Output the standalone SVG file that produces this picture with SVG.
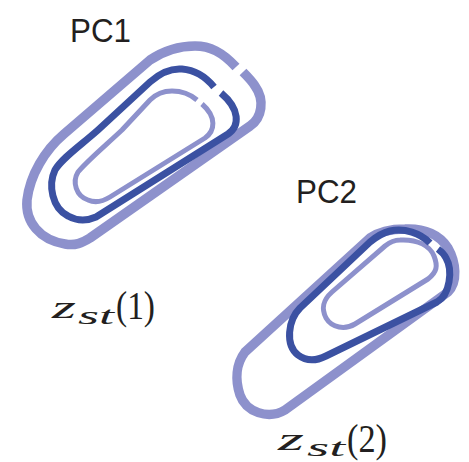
<svg xmlns="http://www.w3.org/2000/svg" width="469" height="462" viewBox="0 0 469 462">
<style>
.light{fill:none;stroke:#8d91cc;stroke-linecap:butt;stroke-linejoin:round}
.dark{fill:none;stroke:#3b51a2;stroke-linecap:butt;stroke-linejoin:round}
.lbl{font-family:"Liberation Sans",Arial,sans-serif;fill:#231f20}
.math{font-family:"Liberation Serif","Times New Roman",serif;fill:#231f20}
.it{font-style:italic}
</style>
<rect width="469" height="462" fill="#fff"/>
<g id="pc1">
<path class="light" stroke-width="9.5" d="M 236,67 C 222,52 210,46 195,46 C 180,46 165,50 150,60 L 64,134 C 45,150 30,175 27,200 C 25,222 40,240 65,244 C 75,246 82,243 90,238 L 250,126 C 262,118 265,100 255,86 C 252,81 247,76 243,72"/>
<path class="dark" stroke-width="7" d="M 214,87 C 205,76 195,70 182,69 C 170,68 160,73 150,82 L 98,130 C 80,146 62,158 55,170 C 48,185 52,208 68,216 C 77,221 87,221 96,217 L 228,134 C 240,126 240,109 221,93"/>
<path class="light" stroke-width="5" d="M 197,100 C 190,94 182,91 172,91 C 164,91 156,94 150,100 L 122,130 C 105,146 88,160 78,172 C 72,182 76,196 88,200 C 95,203 102,202 110,197 L 205,138 C 215,131 217,117 202,104"/>
<text class="lbl" x="70" y="42" font-size="33" textLength="61" lengthAdjust="spacingAndGlyphs">PC1</text>
</g>
<g id="pc2">
<path class="light" stroke-width="9.5" d="M 405,229 C 425,228 440,235 448,248 C 456,262 458,282 448,292 L 285,410 C 268,420 246,412 240,395 C 235,380 236,364 245,352 L 370,238 C 380,231 392,229 405,229 Z"/>
<path class="light" stroke-width="5" d="M 400,240 C 418,239 430,246 434,256 C 438,266 437,272 428,279 L 355,324 C 345,330 332,328 326,318 C 321,308 323,300 332,292 L 385,246 C 390,242 395,240 400,240 Z"/>
<path class="dark" stroke-width="7" d="M 430,243 C 420,233 405,228 390,231 C 382,233 376,237 370,242 L 300,308 C 288,320 285,345 298,355 C 306,361 316,361 326,356 L 437,302 C 450,295 453,270 446,258 C 444,254 442,252 438,249"/>
<text class="lbl" x="296" y="203" font-size="33" textLength="61" lengthAdjust="spacingAndGlyphs">PC2</text>
</g>
<g id="label1" class="math">
<text class="it" x="52" y="318" font-size="31" textLength="24" lengthAdjust="spacingAndGlyphs">z</text>
<text class="it" x="78" y="324" font-size="25" textLength="36" lengthAdjust="spacingAndGlyphs">st</text>
<text x="116" y="319" font-size="40" textLength="39" lengthAdjust="spacingAndGlyphs">(1)</text>
</g>
<g id="label2" class="math">
<text class="it" x="278" y="450" font-size="31" textLength="26" lengthAdjust="spacingAndGlyphs">z</text>
<text class="it" x="307" y="456" font-size="25" textLength="38" lengthAdjust="spacingAndGlyphs">st</text>
<text x="347" y="452" font-size="40" textLength="40" lengthAdjust="spacingAndGlyphs">(2)</text>
</g>
</svg>
